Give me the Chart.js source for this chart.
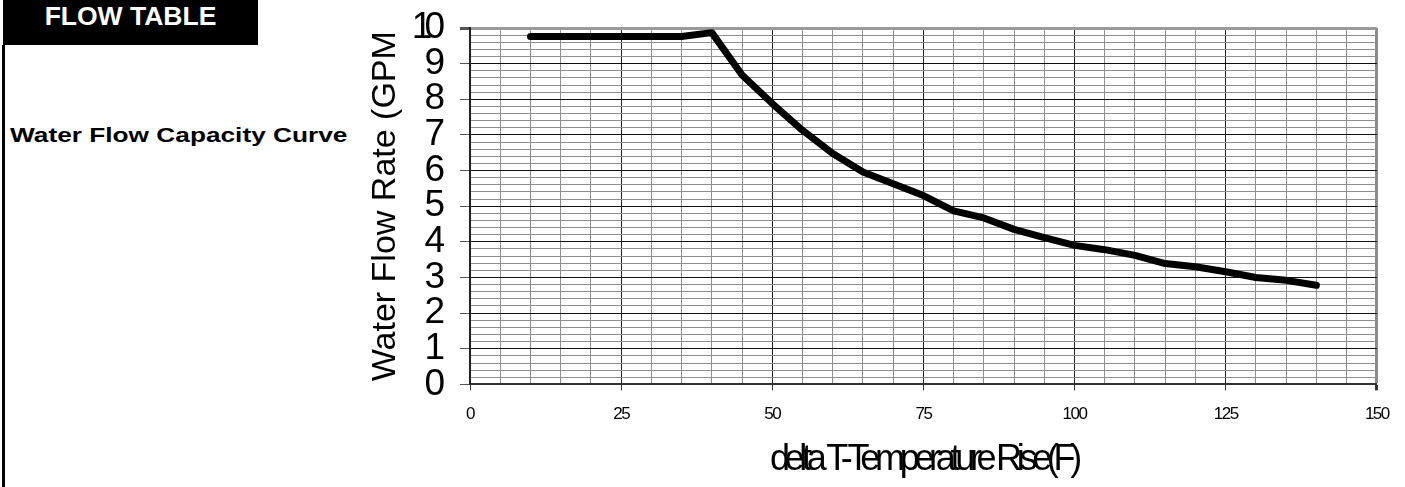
<!DOCTYPE html>
<html lang="en">
<head>
    <meta charset="UTF-8">
    <title>Flow Table</title>
    <style>
        body {
            margin: 0;
            background: #fff;
            font-family: "Liberation Sans", Arial, sans-serif;
        }
        #page {
            position: relative;
            width: 1405px;
            height: 487px;
            overflow: hidden;
        }
        #flowHeader {
            position: absolute;
            left: 3px;
            top: 0;
            width: 255px;
            height: 45px;
            background: #000;
            color: #fff;
            font-weight: bold;
            font-size: 26.5px;
            text-align: center;
            line-height: 32px;
        }
        #leftRule {
            position: absolute;
            left: 2px;
            top: 45px;
            width: 3px;
            height: 442px;
            background: #000;
        }
        #curveTitle {
            position: absolute;
            left: 10px;
            top: 123px;
            font-weight: bold;
            font-size: 21px;
            white-space: nowrap;
            transform: scaleX(1.25);
            transform-origin: left top;
        }
        #chartCanvas {
            position: absolute;
            left: 0;
            top: 0;
        }
    </style>
    <script src="https://cdn.jsdelivr.net/npm/chart.js"></script>
</head>
<body>
<div id="page">
    <div id="flowHeader">FLOW TABLE</div>
    <div id="leftRule"></div>
    <div id="curveTitle">Water Flow Capacity Curve</div>
    <canvas id="chartCanvas" width="1405" height="487"></canvas>
</div>

<script>
    // delta T (F) and flow rate (GPM)
    const deltaT = [10, 15, 20, 25, 30, 35, 40, 45, 50, 55, 60, 65, 70, 75, 80, 85, 90, 95, 100, 105, 110, 115, 120, 125, 130, 135, 140];
    const flowGpm = [9.76, 9.76, 9.76, 9.76, 9.76, 9.76, 9.87, 8.68, 7.88, 7.13, 6.48, 5.96, 5.63, 5.3, 4.87, 4.67, 4.35, 4.12, 3.9, 3.78, 3.62, 3.39, 3.3, 3.16, 3.0, 2.92, 2.78];

    const xLabelEvery = 25;   // labelled x ticks
    const yLabelEvery = 1;    // labelled y ticks
    const xMax = 150;
    const yMax = 10;
    const xTitle = 'delta T-Temperature Rise(F)';
    const yTitle = 'Water Flow Rate (GPM';

    const points = deltaT.map((x, i) => ({ x: x, y: flowGpm[i] }));

    function isMultiple(v, step) {
        return Math.abs(v / step - Math.round(v / step)) < 1e-6;
    }

    // squeeze text the way the original sheet does
    function squeeze(scale, method, spacing) {
        const orig = scale[method];
        scale[method] = function () {
            const c = this.ctx;
            c.save();
            c.letterSpacing = spacing;
            orig.apply(this, arguments);
            c.restore();
        };
    }
    const condensed = {
        id: 'condensed',
        beforeDraw(chart) {
            if (chart._squeezed) return;
            squeeze(chart.scales.x, 'drawTitle', '-5.3px');
            squeeze(chart.scales.x, 'drawLabels', '-1.5px');
            squeeze(chart.scales.y, 'drawLabels', '-8px');
            chart._squeezed = true;
        }
    };

    new Chart(document.getElementById('chartCanvas'), {
        type: 'line',
        data: {
            datasets: [{
                data: points,
                borderColor: '#000',
                borderWidth: 7,
                borderCapStyle: 'round',
                borderJoinStyle: 'round',
                pointRadius: 0,
                tension: 0,
                fill: false
            }]
        },
        options: {
            responsive: false,
            animation: false,
            layout: { padding: { left: 362, top: 28, right: 27, bottom: 5 } },
            plugins: {
                legend: { display: false },
                tooltip: { enabled: false }
            },
            scales: {
                x: {
                    type: 'linear',
                    min: 0,
                    max: xMax,
                    ticks: {
                        stepSize: 5,
                        autoSkip: false,
                        maxRotation: 0,
                        padding: 14,
                        color: '#000',
                        font: { family: 'Liberation Sans', size: 17 },
                        callback: v => isMultiple(v, xLabelEvery) ? v : ''
                    },
                    grid: {
                        color: ctx => ctx.tick.value === xMax ? '#8a8a8a'
                            : isMultiple(ctx.tick.value, xLabelEvery) ? '#222' : '#8e8e8e',
                        lineWidth: ctx => ctx.tick.value === xMax ? 3 : 1,
                        tickLength: 6,
                        tickColor: ctx => isMultiple(ctx.tick.value, xLabelEvery) ? '#333' : 'transparent'
                    },
                    border: { color: '#333', width: 2 },
                    title: {
                        display: true,
                        text: xTitle,
                        color: '#000',
                        font: { family: 'Liberation Sans', size: 36 },
                        padding: { top: 0, bottom: 0 }
                    }
                },
                y: {
                    min: 0,
                    max: yMax,
                    afterFit: s => { s.width = 108; s.paddingTop = 0; s.paddingBottom = 0; },
                    ticks: {
                        stepSize: 0.2,
                        autoSkip: false,
                        padding: 23,
                        color: '#000',
                        font: { family: 'Liberation Sans', size: 37 },
                        callback: v => isMultiple(v, yLabelEvery) ? Math.round(v) : ''
                    },
                    grid: {
                        color: ctx => ctx.tick.value === yMax ? '#9a9a9a'
                            : isMultiple(ctx.tick.value, yLabelEvery) ? '#111' : '#8e8e8e',
                        lineWidth: ctx => ctx.tick.value === yMax ? 3 : 1,
                        tickLength: 10,
                        tickColor: ctx => isMultiple(ctx.tick.value, yLabelEvery) ? '#555' : 'transparent'
                    },
                    border: { color: '#222', width: 2 },
                    title: {
                        display: true,
                        text: yTitle,
                        color: '#000',
                        font: { family: 'Liberation Sans', size: 34 },
                        padding: { top: 3, bottom: 3 }
                    }
                }
            }
        },
        plugins: [condensed]
    });
</script>
</body>
</html>
